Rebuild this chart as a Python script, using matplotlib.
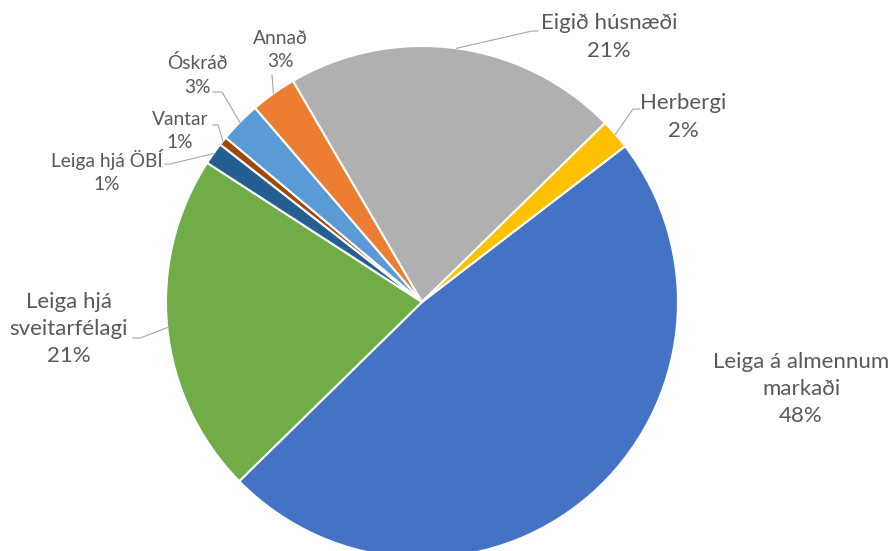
import numpy as np
from matplotlib import pyplot as plt

# slices in clockwise order, starting from the top-right edge of "Herbergi"
categories = ['Leiga á almennum\nmarkaði', 'Leiga hjá\nsveitarfélagi', 'Leiga hjá ÖBÍ',
              'Vantar', 'Óskráð', 'Annað', 'Eigið húsnæði', 'Herbergi']
shares = [48.1, 21.5, 1.4, 0.55, 2.6, 2.9, 21.1, 1.9]
percent_labels = ['48%', '21%', '1%', '1%', '3%', '3%', '21%', '2%']
colors = ['#4472C4', '#70AD47', '#255E91', '#9E480E', '#5B9BD5', '#ED7D31', '#B0B0B0', '#FFC000']

W, H = 890, 551
CENTER = (422, 302)   # pixels, from top-left
RADIUS = 256

# text centre, font size and leader start / elbow, in pixels from top-left
text_pos = [(801, 389), (69, 329), (107, 171), (180, 131), (197, 75), (280, 50), (609, 37), (683, 117)]
font_sizes = [16, 16, 13.8, 13.8, 13.8, 13.8, 16, 16]
leader_start = [None, (133, 338), (165, 164), (213, 125), (213, 92), (272, 75), (538, 31), (640, 109)]
leader_elbow = [None, (140, 338), (170, 164), (218, 125), (222, 92), (272, 75), (532, 31), (633, 109)]


def px(p):
    return p[0], H - p[1]


def main():
    plt.rcParams['font.family'] = ['Lato', 'DejaVu Sans']
    fig = plt.figure(figsize=(W / 100, H / 100), dpi=100)
    ax = fig.add_axes([0, 0, 1, 1])

    wedges, _ = ax.pie(shares, colors=colors, startangle=90 - 52.5, counterclock=False,
                       center=px(CENTER), radius=RADIUS,
                       wedgeprops={'edgecolor': 'white', 'linewidth': 1.5})
    ax.set_xlim(0, W)
    ax.set_ylim(0, H)
    ax.set_aspect('auto')
    ax.axis('off')

    for w, name, pct, pos, fs, start, elbow in zip(wedges, categories, percent_labels, text_pos,
                                                   font_sizes, leader_start, leader_elbow):
        ax.text(*px(pos), f'{name}\n{pct}', ha='center', va='center', fontsize=fs,
                color='#595959', linespacing=1.45)
        if start is None:
            continue
        mid = np.deg2rad((w.theta1 + w.theta2) / 2)
        cx, cy = px(CENTER)
        edge = (cx + RADIUS * np.cos(mid), cy + RADIUS * np.sin(mid))
        xs = [px(start)[0], px(elbow)[0], edge[0]]
        ys = [px(start)[1], px(elbow)[1], edge[1]]
        ax.plot(xs, ys, color='#A6A6A6', linewidth=0.8)

    fig.savefig('out.png', dpi=100)


if __name__ == '__main__':
    main()
